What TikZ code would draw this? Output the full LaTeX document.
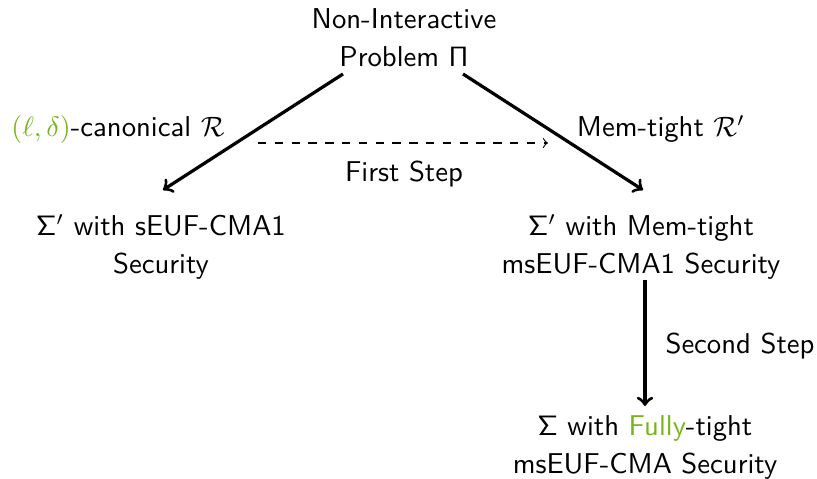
\documentclass[tikz,border=0pt]{standalone}
\usetikzlibrary{calc}
\definecolor{leafgreen}{RGB}{120,180,30}

\begin{document}
\begin{tikzpicture}[x=0.35714pt, y=-0.35714pt,
  every node/.style={inner sep=0pt, font=\sffamily\fontsize{10.25}{13.8}\selectfont},
  box/.style={align=center, anchor=base},
  lbl/.style={anchor=base},
  mainarrow/.style={->, line width=1.15pt},
  steparrow/.style={->, dashed, line width=0.4pt}]
\useasboundingbox (0,0) rectangle (817,479);

% statements (placed by the baseline of their last line)
\node[box] (prob)   at (404,67)  {Non-Interactive\\Problem $\mathsf{\Pi}$};
\node[box] (left)   at (161,274) {$\mathsf{\Sigma}'$ with sEUF-CMA1\\Security};
\node[box] (right)  at (641,274) {$\mathsf{\Sigma}'$ with Mem-tight\\msEUF-CMA1 Security};
\node[box] (bottom) at (645,474) {$\mathsf{\Sigma}$ with \textcolor{leafgreen}{Fully}-tight\\msEUF-CMA Security};

% reductions
\draw[mainarrow] ($(prob.base)+(-61,7)$) -- ($(left.base)+(2,-84)$);
\draw[mainarrow] ($(prob.base)+(59,7)$) -- ($(right.base)+(2,-84)$);
\draw[steparrow] ($(left.base)+(97,-131)$) -- ($(right.base)+(-93,-131)$);
\draw[mainarrow] ($(right.base)+(4,6)$) -- ($(bottom.base)+(0,-68)$);

% labels
\node[lbl] (canon) at (118,137) {\textcolor{leafgreen}{$(\ell,\delta)$}-canonical $\mathcal{R}$};
\node[lbl] (memt)  at (661,137) {Mem-tight $\mathcal{R}'$};
\node[lbl] (first) at (404,182) {First Step};
\node[lbl] (second) at (740,354) {Second Step};
\end{tikzpicture}
\end{document}
